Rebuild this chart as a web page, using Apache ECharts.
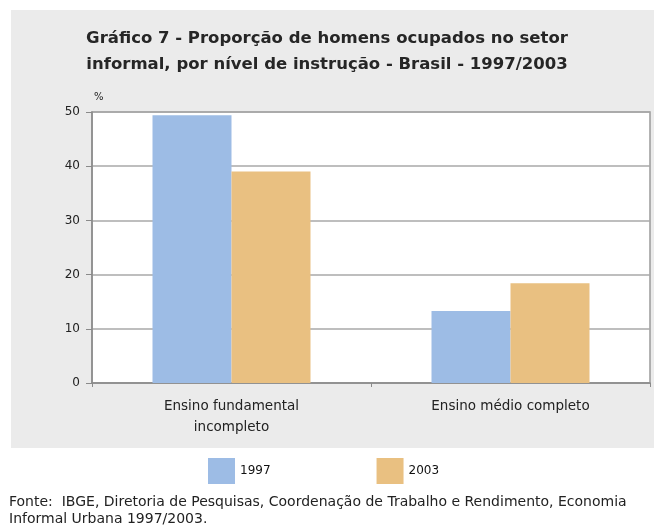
<!DOCTYPE html>
<html>
<head>
<meta charset="utf-8">
<script src="https://cdn.jsdelivr.net/npm/echarts@6/dist/echarts.min.js"></script>
<style>
html,body{margin:0;padding:0;background:#fff;}
#c{width:654px;height:529px;}
</style>
</head>
<body>
<div id="c"></div>
<script>
const categories = ['Ensino fundamental\nincompleto', 'Ensino médio completo'];
const values1997 = [49.4, 13.3];
const values2003 = [39.0, 18.4];
const seriesNames = ['1997', '2003'];
const yTicks = [0, 10, 20, 30, 40, 50];
const titleText = 'Gráfico 7 - Proporção de homens ocupados no setor\ninformal, por nível de instrução - Brasil - 1997/2003';
const sourceText = 'Fonte:  IBGE, Diretoria de Pesquisas, Coordenação de Trabalho e Rendimento, Economia\nInformal Urbana 1997/2003.';

const chart = echarts.init(document.getElementById('c'), null, {renderer: 'canvas'});
const font = 'DejaVu Sans';
chart.setOption({
  backgroundColor: '#ffffff',
  animation: false,
  graphic: [
    {type: 'rect', z: -100, shape: {x: 11, y: 10, width: 650, height: 438}, style: {fill: '#ebebeb'}},
    {type: 'text', left: 9, top: 494, style: {text: sourceText, font: '14px "DejaVu Sans"', fill: '#222', lineHeight: 17}}
  ],
  title: {
    text: titleText,
    left: 'center',
    top: 21,
    textStyle: {fontFamily: 'DejaVu Sans', fontSize: 16.5, fontWeight: 'bold', color: '#262626', lineHeight: 26}
  },
  legend: {
    data: seriesNames,
    left: 208,
    top: 458,
    padding: 0,
    itemWidth: 27,
    itemHeight: 26,
    itemGap: 106,
    icon: 'rect',
    textStyle: {fontFamily: font, fontSize: 12, color: '#111', padding: [0, 0, 0, 0]}
  },
  grid: {
    left: 92, top: 112, right: 4, bottom: 146,
    show: true, backgroundColor: '#ffffff', borderColor: '#9a9a9a', borderWidth: 1.5,
    containLabel: false
  },
  xAxis: {
    type: 'category',
    data: categories,
    axisLine: {show: true, lineStyle: {color: '#8a8a8a', width: 1.5}},
    axisTick: {show: true, length: 4, lineStyle: {color: '#8a8a8a'}},
    axisLabel: {fontFamily: font, fontSize: 13.5, color: '#222', margin: 13, lineHeight: 21}
  },
  yAxis: {
    type: 'value',
    min: 0, max: 50, interval: 10,
    name: '%',
    nameLocation: 'end',
    nameGap: 10,
    nameTextStyle: {fontFamily: font, fontSize: 10, color: '#222', align: 'left', padding: [0, 0, 0, 2]},
    axisLine: {show: true, lineStyle: {color: '#8a8a8a', width: 1.5}},
    axisTick: {show: true, length: 6, lineStyle: {color: '#8a8a8a'}},
    axisLabel: {fontFamily: font, fontSize: 12, color: '#222', margin: 12,
      formatter: v => yTicks.includes(v) ? String(v) : ''},
    splitLine: {show: true, lineStyle: {color: '#a8a8a8', width: 1.5}}
  },
  series: [
    {name: seriesNames[0], type: 'bar', data: values1997, barWidth: 79, barGap: '0%', itemStyle: {color: '#9dbce5'}},
    {name: seriesNames[1], type: 'bar', data: values2003, barWidth: 79, barGap: '0%', itemStyle: {color: '#e9c081'}}
  ]
});
</script>
</body>
</html>
